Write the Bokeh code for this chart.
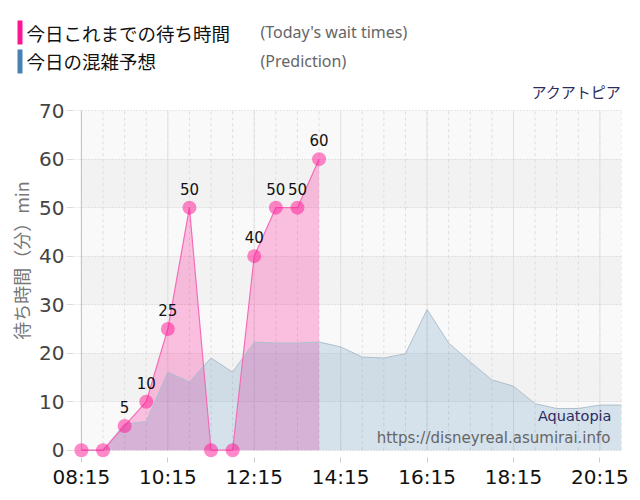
import math

from bokeh.plotting import figure
from bokeh.layouts import column, row
from bokeh.models import Range1d, FixedTicker, Label
from bokeh.core.properties import value
from bokeh.embed import file_html
from bokeh.resources import INLINE

# today's wait times (minutes)
wait_times = ["08:15", "08:45", "09:15", "09:45", "10:15", "10:45",
              "11:15", "11:45", "12:15", "12:45", "13:15", "13:45"]
wait_values = [0, 0, 5, 10, 25, 50, 0, 0, 40, 50, 50, 60]

# prediction for the whole day
pred_times = ["08:15", "08:45", "09:15", "09:45", "10:15", "10:45", "11:15",
              "11:45", "12:15", "12:45", "13:15", "13:45", "14:15", "14:45",
              "15:15", "15:45", "16:15", "16:45", "17:15", "17:45", "18:15",
              "18:45", "19:15", "19:45", "20:15", "20:45"]
pred_values = [0, 0, 5.4, 5.9, 16.1, 14.1, 19.0, 16.1, 22.3, 22.1, 22.1,
               22.3, 21.3, 19.2, 19.0, 19.9, 29.0, 22.1, 18.2, 14.5, 13.2,
               9.6, 8.6, 8.6, 9.3, 9.3]

tick_labels = ["08:15", "10:15", "12:15", "14:15", "16:15", "18:15", "20:15"]
y_ticks = [0, 10, 20, 30, 40, 50, 60, 70]


def to_min(t):
    h, m = t.split(":")
    return int(h) * 60 + int(m)


wait_x = [to_min(t) for t in wait_times]
pred_x = [to_min(t) for t in pred_times]
x_start = pred_x[0]
x_end = pred_x[-1]
major_x = [to_min(t) for t in tick_labels]
minor_x = list(range(x_start, x_end + 1, 30))

# room around the plot area so edge points and the top label are not cut
x_pad = 11
y_bottom = -1.5
y_top = 75.8

#################
# header with the legend (page pixel coordinates)
hdr = figure(width=632, height=82, x_range=Range1d(0, 632), y_range=Range1d(82, 0),
             x_axis_location=None, y_axis_location=None, toolbar_location=None,
             output_backend="svg", min_border=0, frame_align=False)
hdr.grid.visible = False
hdr.outline_line_color = None

hdr.quad(left=[17, 17], right=[22, 22], top=[20, 49], bottom=[44, 73],
         fill_color=["deeppink", "steelblue"], line_color=None)
hdr.text(x=[26, 26], y=[32.5, 60.5], text=["今日これまでの待ち時間", "今日の混雑予想"],
         text_font=value("Noto Sans CJK JP"), text_font_size="18.5px",
         text_color="#111111", text_baseline="middle")
hdr.text(x=[260, 260], y=[31.5, 60], text=["(Today's wait times)", "(Prediction)"],
         text_font=value("Noto Sans"), text_font_size="16px",
         text_color="#666666", text_baseline="middle")

#################
# y axis title, in its own strip
yl = figure(width=36, height=410, x_range=Range1d(0, 36), y_range=Range1d(0, 410),
            x_axis_location=None, y_axis_location=None, toolbar_location=None,
            output_backend="svg", min_border=0, frame_align=False)
yl.grid.visible = False
yl.outline_line_color = None
yl.text(x=[20], y=[232], text=["待ち時間（分）min"], angle=math.pi / 2,
        text_font=value("Noto Sans CJK JP"), text_font_size="18px", text_color="#777777",
        text_align="center", text_baseline="middle")

#################
# main chart
p = figure(width=596, height=410,
           x_range=Range1d(x_start - x_pad, x_end), y_range=Range1d(y_bottom, y_top),
           toolbar_location=None, output_backend="svg", frame_align=False,
           min_border_left=36, min_border_right=11, min_border_top=0, min_border_bottom=35)
p.background_fill_color = "white"
p.outline_line_color = None

# plot area background with alternating bands
p.quad(left=x_start, right=x_end, bottom=y_ticks[0], top=y_ticks[-1],
       fill_color="#f9f9f9", line_color=None, level="image")
p.quad(left=x_start, right=x_end, bottom=y_ticks[1:-1:2], top=y_ticks[2::2],
       fill_color="#f2f2f2", line_color=None, level="image")

# vertical grid, only inside the plot area
p.segment(x0=minor_x, y0=y_ticks[0], x1=minor_x, y1=y_ticks[-1],
          line_color="#dddddd", line_dash="3 3", level="underlay")
p.segment(x0=major_x, y0=y_ticks[0], x1=major_x, y1=y_ticks[-1],
          line_color="#e2e2e2", level="underlay")
# y axis line
p.segment(x0=[x_start], y0=[y_ticks[0]], x1=[x_start], y1=[y_ticks[-1]],
          line_color="#c0c0cc", line_width=1, level="underlay")

p.yaxis.ticker = FixedTicker(ticks=y_ticks)
p.yaxis.major_label_text_font = "DejaVu Sans"
p.yaxis.major_label_text_font_size = "20px"
p.yaxis.major_label_text_color = "#444444"
p.yaxis.axis_line_color = None
p.yaxis.major_tick_out = 7
p.yaxis.major_tick_in = 0
p.yaxis.major_label_standoff = 2
p.yaxis.major_tick_line_color = "#dddddd"
p.yaxis.minor_tick_line_color = None
p.ygrid.grid_line_color = "#cfcfcf"
p.ygrid.grid_line_dash = "1 2"

p.xaxis.ticker = FixedTicker(ticks=major_x)
p.xaxis.major_label_overrides = {to_min(t): t for t in tick_labels}
p.xaxis.major_label_text_font = "DejaVu Sans"
p.xaxis.major_label_text_font_size = "20px"
p.xaxis.major_label_text_color = "#111111"
p.xaxis.major_label_standoff = 2
p.xaxis.axis_line_color = None
p.xaxis.major_tick_out = 5
p.xaxis.major_tick_in = 0
p.xaxis.major_tick_line_color = "#cccccc"
p.xaxis.minor_tick_line_color = None
p.xgrid.grid_line_color = None

# areas
p.varea(x=wait_x, y1=0, y2=wait_values, fill_color="deeppink", fill_alpha=0.25)
p.varea(x=pred_x, y1=0, y2=pred_values, fill_color="steelblue", fill_alpha=0.2)
p.line(pred_x, pred_values, line_color="#aebfcc", line_width=1)

# today's line and points
p.line(wait_x, wait_values, line_color="#f46cb6", line_width=1.2)
p.scatter(wait_x, wait_values, size=14, fill_color="deeppink", fill_alpha=0.5, line_color=None)

lab_x = [x for x, v in zip(wait_x, wait_values) if v > 0]
lab_y = [v for v in wait_values if v > 0]
p.text(x=lab_x, y=lab_y, text=[str(v) for v in lab_y], y_offset=-19,
       text_font=value("DejaVu Sans"), text_font_size="15px", text_color="#111111",
       text_align="center", text_baseline="middle")

p.add_layout(Label(x=548, y=366, x_units="screen", y_units="screen", text="アクアトピア",
                   text_font="Noto Sans CJK JP", text_font_size="15px", text_color="#2b2b62",
                   text_align="right", text_baseline="middle"))
p.add_layout(Label(x=538, y=42, x_units="screen", y_units="screen", text="Aquatopia",
                   text_font="DejaVu Sans", text_font_size="14.5px", text_color="#2b2b62",
                   text_align="right", text_baseline="middle"))
p.add_layout(Label(x=537, y=20, x_units="screen", y_units="screen",
                   text="https://disneyreal.asumirai.info",
                   text_font="DejaVu Sans", text_font_size="15px", text_color="#666666",
                   text_align="right", text_baseline="middle"))

layout = column(hdr, row(yl, p))
open("out.html", "w").write(file_html(layout, INLINE))
